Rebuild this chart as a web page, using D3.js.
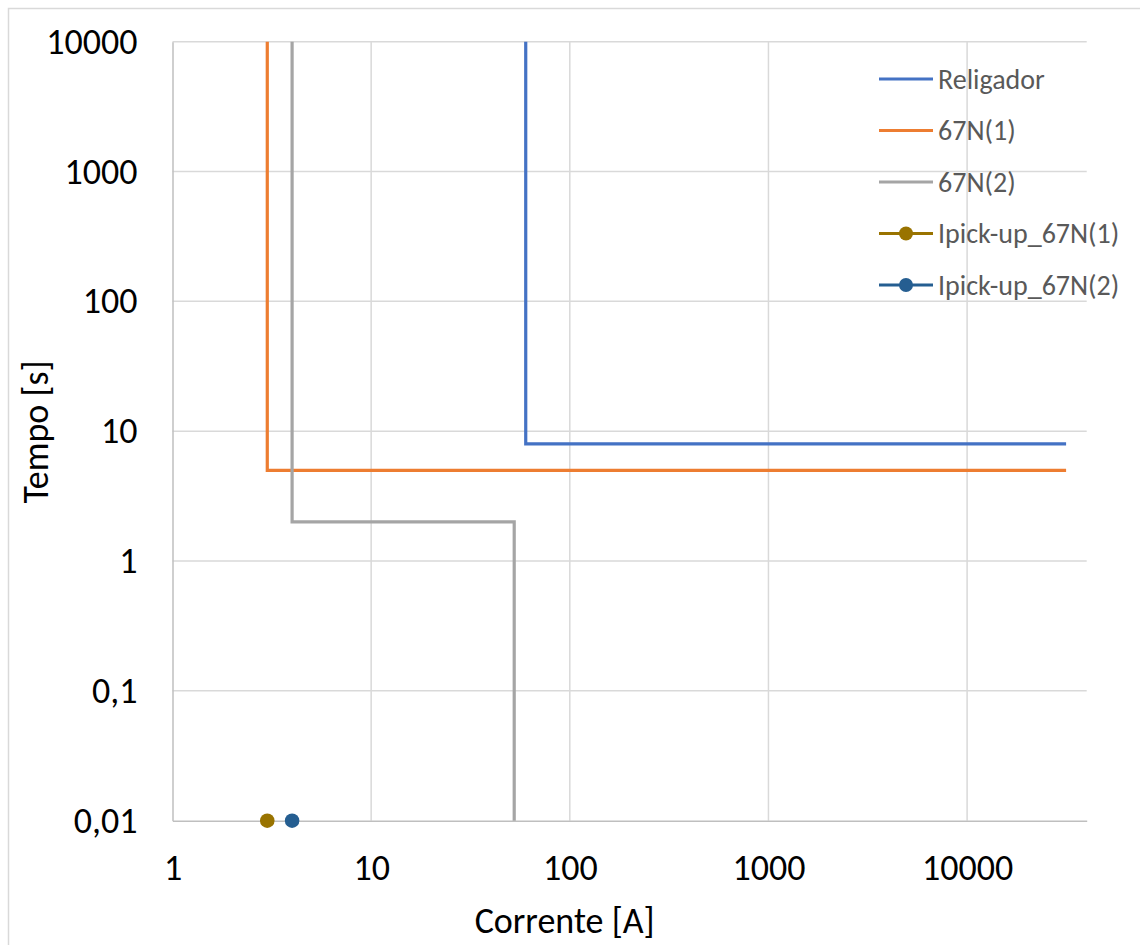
<!DOCTYPE html>
<html>
<head>
<meta charset="utf-8">
<script src="https://cdn.jsdelivr.net/npm/d3@7"></script>
<style>
  html, body { margin: 0; padding: 0; background: #fff; }
  svg { display: block; }
  text { font-family: Carlito, Calibri, Lato, "Open Sans", sans-serif; }
</style>
</head>
<body>
<svg id="chart" width="1140" height="945"></svg>
<script>
// Coordination curves: current [A] vs. time [s]
const religadorCurrent = [60, 60, 31500];
const religadorTime    = [10000, 8, 8];

const n67_1Current = [3, 3, 31500];
const n67_1Time    = [10000, 5, 5];

const n67_2Current = [4, 4, 52.5, 52.5];
const n67_2Time    = [10000, 2, 2, 0.01];

const pickup1Current = [3];
const pickup1Time    = [0.01];
const pickup2Current = [4];
const pickup2Time    = [0.01];

const xTicks = [1, 10, 100, 1000, 10000];
const yTicks = [0.01, 0.1, 1, 10, 100, 1000, 10000];
const yTickLabels = ["0,01", "0,1", "1", "10", "100", "1000", "10000"];

const seriesNames  = ["Religador", "67N(1)", "67N(2)", "Ipick-up_67N(1)", "Ipick-up_67N(2)"];
const seriesColors = ["#4472C4", "#ED7D31", "#A5A5A5", "#997300", "#255E91"];

const svg = d3.select("#chart");

// Chart frame
svg.append("rect")
  .attr("x", 8.5).attr("y", 8.5)
  .attr("width", 1150).attr("height", 960)
  .attr("fill", "#fff").attr("stroke", "#d9d9d9").attr("stroke-width", 1.5);

const plotL = 172.5, plotR = 1086.7, plotT = 41.7, plotB = 820.7;

const x = d3.scaleLog().domain([1, 40000]).range([plotL, plotR]);
const y = d3.scaleLog().domain([0.01, 10000]).range([plotB, plotT]);

// Gridlines
const grid = svg.append("g");
grid.selectAll(".vg").data(xTicks.slice(1)).join("line")
  .attr("x1", d => x(d)).attr("x2", d => x(d))
  .attr("y1", plotT).attr("y2", plotB)
  .attr("stroke", "#d9d9d9").attr("stroke-width", 1.5);
grid.selectAll(".hg").data(yTicks.slice(1)).join("line")
  .attr("x1", plotL).attr("x2", plotR)
  .attr("y1", d => y(d)).attr("y2", d => y(d))
  .attr("stroke", "#d9d9d9").attr("stroke-width", 1.5);

// Axes
const tickFont = 36;
const xAxis = d3.axisBottom(x).tickValues(xTicks).tickSize(0).tickPadding(34)
  .tickFormat(d3.format("d"));
const gx = svg.append("g").attr("transform", `translate(0,${plotB})`).call(xAxis);
gx.select(".domain").attr("stroke", "#bfbfbf").attr("stroke-width", 1.5);
gx.selectAll("text").attr("font-size", tickFont).attr("fill", "#000")
  .style("font-family", "Carlito, Calibri, Lato, sans-serif");

const yAxis = d3.axisLeft(y).tickValues(yTicks).tickSize(0).tickPadding(35)
  .tickFormat((d, i) => yTickLabels[i]);
const gy = svg.append("g").attr("transform", `translate(${plotL},0)`).call(yAxis);
gy.select(".domain").attr("stroke", "#bfbfbf").attr("stroke-width", 1.5);
gy.selectAll("text").attr("font-size", tickFont).attr("fill", "#000")
  .style("font-family", "Carlito, Calibri, Lato, sans-serif");

// Axis titles
svg.append("text")
  .attr("x", (plotL + plotR) / 2 - 65).attr("y", 933)
  .attr("text-anchor", "middle").attr("font-size", 36).attr("fill", "#000")
  .text("Corrente [A]");
svg.append("text")
  .attr("transform", `translate(48,432) rotate(-90)`)
  .attr("text-anchor", "middle").attr("font-size", 36).attr("fill", "#000")
  .text("Tempo [s]");

// Curves
const line = d3.line().x(d => x(d[0])).y(d => y(d[1]));
const curves = [
  d3.zip(religadorCurrent, religadorTime),
  d3.zip(n67_1Current, n67_1Time),
  d3.zip(n67_2Current, n67_2Time)
];
svg.append("g").selectAll("path").data(curves).join("path")
  .attr("d", line)
  .attr("fill", "none")
  .attr("stroke", (d, i) => seriesColors[i])
  .attr("stroke-width", 3.2)
  .attr("stroke-linejoin", "miter")
  .attr("stroke-linecap", "butt");

// Pick-up points
const points = [
  { pts: d3.zip(pickup1Current, pickup1Time), color: seriesColors[3] },
  { pts: d3.zip(pickup2Current, pickup2Time), color: seriesColors[4] }
];
points.forEach(p => {
  svg.append("g").selectAll("circle").data(p.pts).join("circle")
    .attr("cx", d => x(d[0])).attr("cy", d => y(d[1]))
    .attr("r", 7.3).attr("fill", p.color);
});

// Legend
const legend = svg.append("g");
const legY0 = 79, legStep = 51.5;
seriesNames.forEach((name, i) => {
  const ly = legY0 + i * legStep;
  const g = legend.append("g");
  g.append("line")
    .attr("x1", 879).attr("x2", 933).attr("y1", ly).attr("y2", ly)
    .attr("stroke", seriesColors[i]).attr("stroke-width", 3.2);
  if (i >= 3) {
    g.append("circle").attr("cx", 906).attr("cy", ly).attr("r", 7)
      .attr("fill", seriesColors[i]);
  }
  g.append("text")
    .attr("x", 938).attr("y", ly).attr("dy", "0.35em")
    .attr("font-size", 28).attr("fill", "#595959")
    .text(name);
});
</script>
</body>
</html>
